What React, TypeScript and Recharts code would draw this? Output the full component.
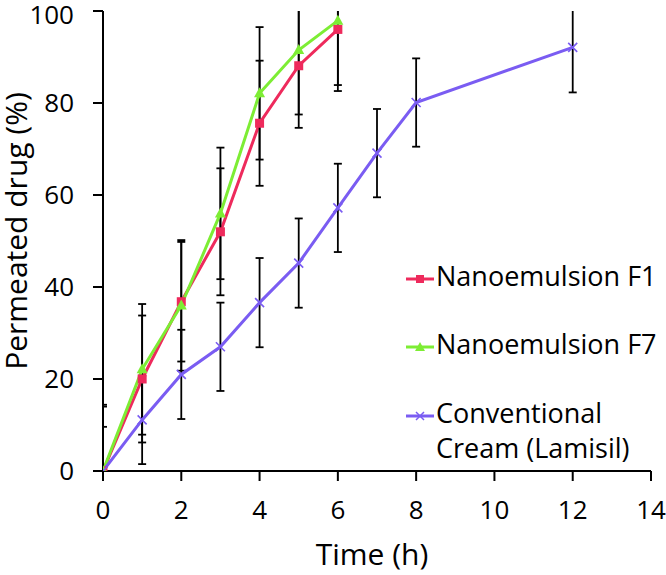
import React from "react";
import { LineChart, Line, XAxis, YAxis, ErrorBar } from "recharts";

const hoursNano = [0, 1, 2, 3, 4, 5, 6];
const f1Values = [0, 20, 36.8, 52, 75.6, 88.1, 96];
const f1Errors = [14, 13.8, 13, 13.8, 13.6, 13.5, 13.4];
const f7Values = [0, 22.1, 36, 56, 82.1, 91.5, 97.9];
const f7Errors = [14.4, 14.2, 14.2, 14.3, 14.4, 14, 14];

const hoursCream = [0, 1, 2, 3, 4, 5, 6, 7, 8, 12];
const creamValues = [0, 11.1, 21, 27, 36.6, 45.2, 57.2, 69.1, 80.1, 92.1];
const creamErrors = [9.6, 9.6, 9.7, 9.6, 9.7, 9.7, 9.6, 9.6, 9.6, 9.8];

const xTicks = [0, 2, 4, 6, 8, 10, 12, 14];
const yTicks = [0, 20, 40, 60, 80, 100];

const seriesNames = ["Nanoemulsion F1", "Nanoemulsion F7", "Conventional\nCream (Lamisil)"];
const colors = ["#ee2a5c", "#7ded34", "#7a5cf2"];

const f1Data = hoursNano.map((t, i) => ({ t, v: f1Values[i], err: f1Errors[i] }));
const f7Data = hoursNano.map((t, i) => ({ t, v: f7Values[i], err: f7Errors[i] }));
const creamData = hoursCream.map((t, i) => ({ t, v: creamValues[i], err: creamErrors[i] }));

const FONT = "'Open Sans', sans-serif";

const Square = (props: any) => {
  const { cx, cy } = props;
  if (cx == null || cy == null) return null;
  return <rect x={cx - 4.5} y={cy - 4.5} width={9} height={9} fill={colors[0]} />;
};

const Triangle = (props: any) => {
  const { cx, cy } = props;
  if (cx == null || cy == null) return null;
  return (
    <polygon
      points={`${cx},${cy - 6} ${cx + 5.5},${cy + 4} ${cx - 5.5},${cy + 4}`}
      fill={colors[1]}
    />
  );
};

const Cross = (props: any) => {
  const { cx, cy } = props;
  if (cx == null || cy == null) return null;
  return (
    <path
      d={`M${cx - 4.5},${cy - 4.5}L${cx + 4.5},${cy + 4.5}M${cx - 4.5},${cy + 4.5}L${cx + 4.5},${cy - 4.5}`}
      stroke={colors[2]}
      strokeWidth={1.6}
    />
  );
};

function LegendMarker({ i }: { i: number }) {
  return (
    <svg width={30} height={14} style={{ display: "block" }}>
      <line x1={0} y1={7} x2={28} y2={7} stroke={colors[i]} strokeWidth={3} />
      {i === 0 && <rect x={10} y={3} width={8} height={8} fill={colors[0]} />}
      {i === 1 && <polygon points="14,2 19,11 9,11" fill={colors[1]} />}
      {i === 2 && (
        <path d="M10,3L18,11M10,11L18,3" stroke={colors[2]} strokeWidth={1.5} />
      )}
    </svg>
  );
}

export default function App() {
  const legendTops = [258, 326, 395];
  return (
    <div style={{ position: "absolute", left: 0, top: 0, width: 666, height: 575, background: "#fff" }}>
      <style>{`.recharts-errorBars { clip-path: url(#plotClip); }`}</style>
      <LineChart
        width={666}
        height={575}
        margin={{ top: 11, right: 15, bottom: 0, left: 0 }}
      >
        <defs>
          <clipPath id="plotClip" clipPathUnits="userSpaceOnUse">
            <rect x={102} y={11} width={560} height={460} />
          </clipPath>
        </defs>
        <XAxis
          type="number"
          dataKey="t"
          domain={[0, 14]}
          ticks={xTicks}
          allowDataOverflow
          height={104}
          axisLine={{ stroke: "#000", strokeWidth: 2 }}
          tickLine={{ stroke: "#000", strokeWidth: 2 }}
          tickSize={10}
          tickMargin={20}
          tick={{ fill: "#000", fontSize: 26, fontFamily: FONT }}
          label={{
            content: () => (
              <text x={372} y={565} textAnchor="middle" fontSize={30} fontFamily={FONT} fill="#000">
                Time (h)
              </text>
            ),
          }}
        />
        <YAxis
          type="number"
          domain={[0, 100]}
          ticks={yTicks}
          allowDataOverflow
          width={103}
          axisLine={{ stroke: "#000", strokeWidth: 2 }}
          tickLine={{ stroke: "#000", strokeWidth: 2 }}
          tickSize={10}
          tickMargin={19}
          tick={{ fill: "#000", fontSize: 26, fontFamily: FONT }}
          label={{
            content: () => (
              <text
                x={27}
                y={231}
                transform="rotate(-90 27 231)"
                textAnchor="middle"
                fontSize={30}
                fontFamily={FONT}
                fill="#000"
              >
                Permeated drug (%)
              </text>
            ),
          }}
        />
        <Line
          data={f1Data}
          dataKey="v"
          stroke={colors[0]}
          strokeWidth={3}
          dot={<Square />}
          activeDot={false}
          isAnimationActive={false}
        >
          <ErrorBar dataKey="err" width={4} stroke="#000" strokeWidth={1.8} direction="y" />
        </Line>
        <Line
          data={f7Data}
          dataKey="v"
          stroke={colors[1]}
          strokeWidth={3}
          dot={<Triangle />}
          activeDot={false}
          isAnimationActive={false}
        >
          <ErrorBar dataKey="err" width={4} stroke="#000" strokeWidth={1.8} direction="y" />
        </Line>
        <Line
          data={creamData}
          dataKey="v"
          stroke={colors[2]}
          strokeWidth={3}
          dot={<Cross />}
          activeDot={false}
          isAnimationActive={false}
        >
          <ErrorBar dataKey="err" width={4} stroke="#000" strokeWidth={1.8} direction="y" />
        </Line>
      </LineChart>
      {seriesNames.map((name, i) => (
        <div
          key={name}
          style={{
            position: "absolute",
            left: 406,
            top: legendTops[i],
            display: "flex",
            alignItems: "flex-start",
            fontFamily: FONT,
            fontSize: 27,
            lineHeight: "35px",
            color: "#000",
            whiteSpace: "pre",
          }}
        >
          <div style={{ paddingTop: 14 }}>
            <LegendMarker i={i} />
          </div>
          <div>{name}</div>
        </div>
      ))}
    </div>
  );
}
